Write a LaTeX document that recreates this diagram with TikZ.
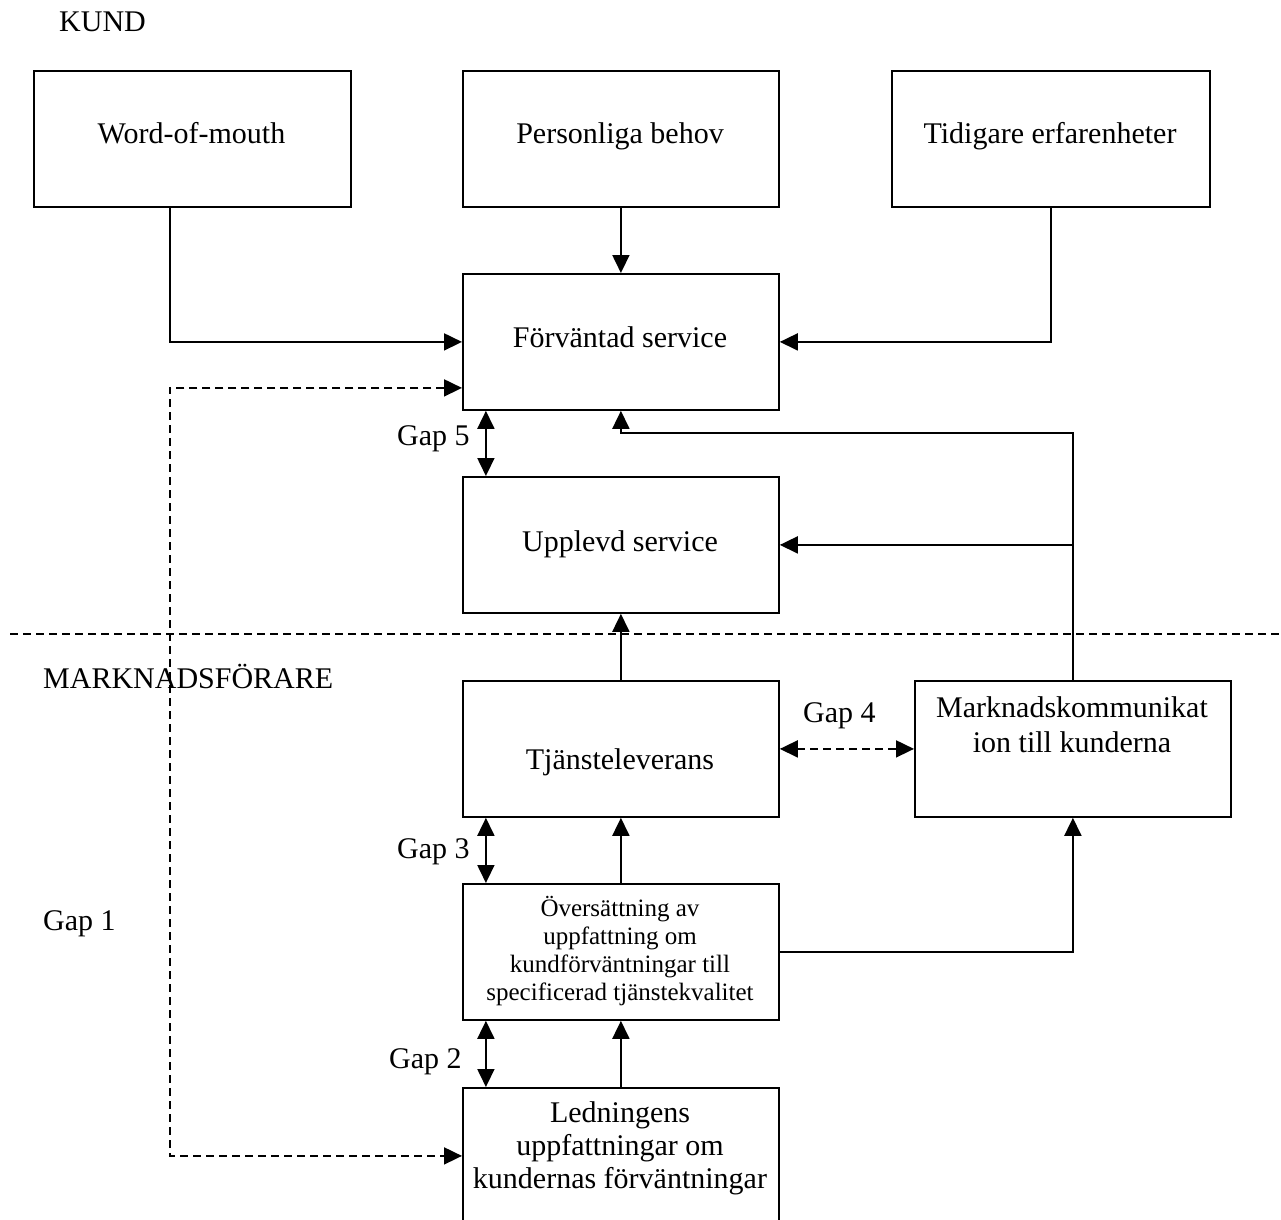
\documentclass[tikz,border=0pt]{standalone}
\usepackage{fontspec}
\setmainfont{Liberation Serif}
\usetikzlibrary{arrows.meta}
\begin{document}
\begin{tikzpicture}[x=1pt,y=-1pt,
  >={Triangle[length=18pt,width=17pt]},
  box/.style={draw, line width=1.8pt, minimum width=316pt, minimum height=136pt, inner sep=0pt, anchor=north west},
  txt/.style={font=\fontsize{30pt}{34pt}\selectfont, inner sep=0pt, align=center, anchor=base},
  small/.style={font=\fontsize{25pt}{28pt}\selectfont, inner sep=0pt, align=center, anchor=base},
  lbl/.style={font=\fontsize{30pt}{34pt}\selectfont, inner sep=0pt, anchor=base west},
  conn/.style={line width=1.8pt},
  dashconn/.style={line width=1.8pt, dash pattern=on 8pt off 5pt}
]
\useasboundingbox (0,0) rectangle (1281,1219);
\clip (0,0) rectangle (1281,1219);

% boxes
\node[box, minimum width=317pt] (wom) at (33,70) {};
\node[box] (pb) at (462,70) {};
\node[box, minimum width=318pt] (te) at (891,70) {};
\node[box] (fs) at (462,273) {};
\node[box] (us) at (462,476) {};
\node[box] (tl) at (462,680) {};
\node[box] (mk) at (914,680) {};
\node[box] (ov) at (462,883) {};
\node[box] (lm) at (462,1087) {};

% box texts (multi-line nodes: base = last line)
\node[txt] (womt) at (191.5,143) {Word-of-mouth};
\node[txt] (pbt) at (620,143) {Personliga behov};
\node[txt] (tet) at (1050,143) {Tidigare erfarenheter};
\node[txt] (fst) at (620,347) {Förväntad service};
\node[txt] (ust) at (620,551) {Upplevd service};
\node[txt] (tlt) at (620,769) {Tjänsteleverans};
\node[txt, font=\fontsize{30pt}{35pt}\selectfont] (mkt) at (1072,752) {Marknadskommunikat\\ion till kunderna};
\node[small] (ovt) at (620,1000) {Översättning av\\uppfattning om\\kundförväntningar till\\specificerad tjänstekvalitet};
\node[txt, font=\fontsize{30pt}{33pt}\selectfont] (lmt) at (620,1188) {Ledningens\\uppfattningar om\\kundernas förväntningar};

% free labels
\node[lbl] (kund) at (59,31) {KUND};
\node[lbl] (mf) at (43,688) {MARKNADSFÖRARE};
\node[lbl] (g1) at (43,930) {Gap 1};
\node[lbl] (g5) at (397,445) {Gap 5};
\node[lbl] (g4) at (803,722) {Gap 4};
\node[lbl] (g3) at (397,858) {Gap 3};
\node[lbl] (g2) at (389,1068) {Gap 2};

% separator
\coordinate (sepL) at (10,634);
\coordinate (sepR) at (1281,634);
\draw[dashconn] (sepL) -- (sepR);

% helper coordinate
\coordinate (wx) at ([xshift=-22.5pt]wom.south);

% connectors
\draw[conn,->] (wx) |- (fs.west);
\draw[conn,->] (pb.south) -- (fs.north);
\draw[conn,->] (te.south) |- (fs.east);
\draw[dashconn,<->] ([yshift=-46pt]fs.west) -| (wx |- lm.west) -- (lm.west);
\draw[conn,<->] ([xshift=-135pt]fs.south) -- ([xshift=-135pt]us.north);
\draw[conn,->] (mk.north) |- ([yshift=-22pt]fs.south) -- (fs.south);
\draw[conn,->] (mk.north |- us.east) -- (us.east);
\draw[conn,->] (tl.north) -- (us.south);
\draw[dashconn,<->] (tl.east) -- (mk.west);
\draw[conn,<->] ([xshift=-135pt]tl.south) -- ([xshift=-135pt]ov.north);
\draw[conn,->] (ov.north) -- (tl.south);
\draw[conn,->] (ov.east) -| (mk.south);
\draw[conn,<->] ([xshift=-135pt]ov.south) -- ([xshift=-135pt]lm.north);
\draw[conn,->] (lm.north) -- (ov.south);
\end{tikzpicture}
\end{document}
